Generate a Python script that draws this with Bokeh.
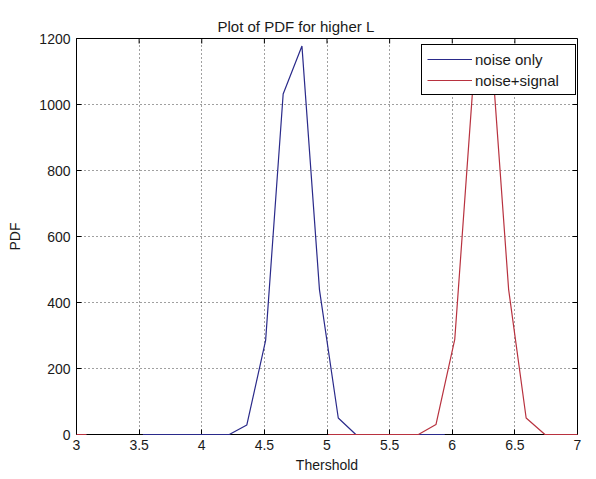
import math
from bokeh.plotting import figure
from bokeh.models import Range1d, FixedTicker, Legend, LegendItem
from bokeh.embed import file_html
from bokeh.resources import INLINE

# ---- data ----
noise_x = [3.53, 3.67, 3.82, 3.96, 4.10, 4.22, 4.36, 4.51, 4.65, 4.80, 4.94, 5.09, 5.23, 5.37, 5.52, 5.66, 5.80, 5.94]
noise_y = [0, 0, 0, 0, 0, 0, 29, 285, 1032, 1177, 438, 50, 0, 0, 0, 0, 0, 0]
signal_x = [3.0, 3.08, math.nan, 5.01, 5.15, 5.30, 5.44, 5.58, 5.73, 5.87, 6.02, 6.16, 6.31, 6.45, 6.59, 6.74, 6.88, 7.0]
signal_y = [0, 0, math.nan, 0, 0, 0, 0, 0, 0, 30, 288, 1030, 1180, 440, 50, 0, 0, 0]
x_ticks = [3, 3.5, 4, 4.5, 5, 5.5, 6, 6.5, 7]
x_tick_labels = ["3", "3.5", "4", "4.5", "5", "5.5", "6", "6.5", "7"]
y_ticks = [0, 200, 400, 600, 800, 1000, 1200]
series_names = ["noise only", "noise+signal"]

X_MIN, X_MAX = 3, 7
Y_MIN, Y_MAX = 0, 1200

FONT = "Liberation Sans"
TXT = "#1a1a1a"

p = figure(width=596, height=479, x_range=Range1d(X_MIN, X_MAX), y_range=Range1d(Y_MIN, Y_MAX),
           output_backend="svg", toolbar_location=None,
           min_border_left=76, min_border_right=19, min_border_top=38, min_border_bottom=45,
           background_fill_color="white", border_fill_color="white",
           x_axis_label="Thershold", y_axis_label="PDF")
p.outline_line_color = "black"
p.outline_line_alpha = 1

p.title.text = "Plot of PDF for higher L"
p.title.text_font = FONT
p.title.text_font_size = "15px"
p.title.text_font_style = "normal"
p.title.text_color = TXT
p.title.align = "left"
p.title.offset = 141
p.title.standoff = 8

p.xgrid.ticker = FixedTicker(ticks=x_ticks)
p.ygrid.ticker = FixedTicker(ticks=y_ticks)
for g in (p.xgrid[0], p.ygrid[0]):
    g.grid_line_color = "black"
    g.grid_line_dash = "1 3"
    g.grid_line_width = 1
    g.grid_line_alpha = 0.75

r1 = p.line(noise_x, noise_y, line_color="#2a2a8a", line_width=1.2, level="overlay")
r2 = p.line(signal_x, signal_y, line_color="#b8323f", line_width=1.2, level="overlay")

# inward ticks on the top and right edges of the box
p.ray(x=x_ticks, y=[Y_MAX] * len(x_ticks), length=5, length_units="screen",
      angle=-math.pi / 2, line_color="black", line_width=1)
p.ray(x=[X_MAX] * len(y_ticks), y=y_ticks, length=5, length_units="screen",
      angle=math.pi, line_color="black", line_width=1)

for ax in (p.xaxis[0], p.yaxis[0]):
    ax.major_tick_in = 5
    ax.major_tick_out = 0
    ax.minor_tick_in = 0
    ax.minor_tick_out = 0
    ax.axis_line_color = "black"
    ax.major_tick_line_color = "black"
    ax.major_label_text_font = FONT
    ax.major_label_text_font_size = "14px"
    ax.major_label_text_color = TXT
    ax.axis_label_text_font = FONT
    ax.axis_label_text_font_size = "14px"
    ax.axis_label_text_font_style = "normal"
    ax.axis_label_text_color = TXT

p.xaxis[0].ticker = FixedTicker(ticks=x_ticks)
p.xaxis[0].major_label_overrides = {t: s for t, s in zip(x_ticks, x_tick_labels)}
p.xaxis[0].major_label_standoff = 5
p.xaxis[0].axis_label_standoff = 4
p.yaxis[0].ticker = FixedTicker(ticks=y_ticks)
p.yaxis[0].major_label_standoff = 6
p.yaxis[0].axis_label_standoff = 13

legend = Legend(items=[LegendItem(label=series_names[0], renderers=[r1]),
                       LegendItem(label=series_names[1], renderers=[r2])],
                location=(345, 339), padding=5, spacing=3, glyph_width=45, glyph_height=18,
                label_height=18, label_width=95, label_standoff=3, margin=0,
                label_text_font=FONT, label_text_font_size="15px", label_text_color=TXT,
                border_line_color="black", border_line_width=1, border_line_alpha=1,
                background_fill_color="white", background_fill_alpha=1, level="overlay")
p.add_layout(legend)

open("out.html", "w").write(file_html(p, INLINE))
